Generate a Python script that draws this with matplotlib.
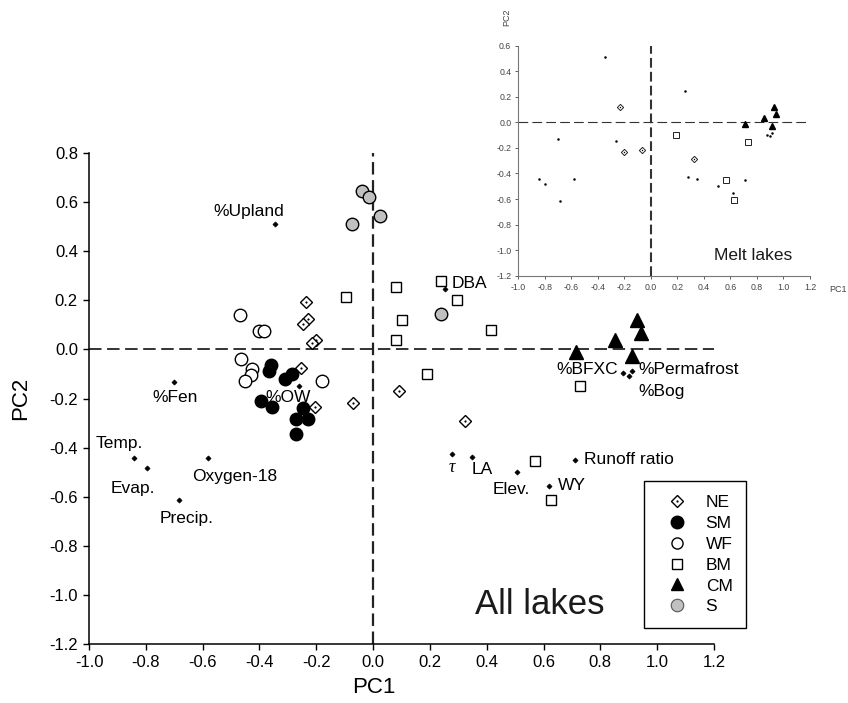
import matplotlib
matplotlib.use("Agg")
import matplotlib.pyplot as plt
from matplotlib.lines import Line2D
from matplotlib.legend_handler import HandlerTuple

plt.rcParams['font.family'] = ['Liberation Sans', 'DejaVu Sans']
plt.rcParams['lines.scale_dashes'] = False

# ---------------- data: lake scores (All lakes) ----------------
ne_pc1 = [-0.235, -0.23, -0.245, -0.20, -0.215, -0.255, -0.205, -0.07, 0.09, 0.325]
ne_pc2 = [0.195, 0.125, 0.105, 0.04, 0.025, -0.075, -0.235, -0.22, -0.17, -0.29]

sm_pc1 = [-0.36, -0.365, -0.31, -0.285, -0.395, -0.355, -0.245, -0.27, -0.23, -0.27]
sm_pc2 = [-0.065, -0.09, -0.12, -0.10, -0.21, -0.235, -0.24, -0.285, -0.285, -0.345]

wf_pc1 = [-0.47, -0.40, -0.385, -0.465, -0.425, -0.43, -0.45, -0.18]
wf_pc2 = [0.14, 0.075, 0.075, -0.04, -0.08, -0.105, -0.13, -0.13]

bm_pc1 = [-0.095, 0.08, 0.24, 0.295, 0.10, 0.415, 0.08, 0.19, 0.73, 0.57, 0.625]
bm_pc2 = [0.215, 0.255, 0.28, 0.20, 0.12, 0.08, 0.04, -0.10, -0.15, -0.455, -0.615]

cm_pc1 = [0.93, 0.944, 0.851, 0.713, 0.91]
cm_pc2 = [0.12, 0.066, 0.037, -0.012, -0.026]

s_pc1 = [-0.04, -0.015, 0.025, -0.074, 0.24]
s_pc2 = [0.645, 0.62, 0.544, 0.511, 0.146]

# ---------------- data: variable loadings ----------------
var_names = ['%Upland', 'DBA', '%OW', '%Fen', 'Temp.', 'Evap.', 'Oxygen-18',
             'Precip.', 'τ', 'LA', 'Elev.', 'WY', 'Runoff ratio',
             '%BFXC', '%Permafrost', '%Bog']
var_pc1 = [-0.344, 0.254, -0.261, -0.701, -0.843, -0.797, -0.582,
           -0.684, 0.278, 0.348, 0.506, 0.618, 0.709, 0.878, 0.91, 0.90]
var_pc2 = [0.511, 0.247, -0.149, -0.131, -0.441, -0.482, -0.443,
           -0.615, -0.426, -0.44, -0.50, -0.556, -0.449, -0.098, -0.087, -0.107]

# ---------------- data: Melt lakes (inset) ----------------
melt_ne_pc1 = [-0.23, -0.205, -0.07, 0.325]
melt_ne_pc2 = [0.12, -0.232, -0.218, -0.29]
melt_bm_pc1 = [0.19, 0.73, 0.566, 0.624]
melt_bm_pc2 = [-0.10, -0.15, -0.454, -0.61]
melt_cm_pc1 = [0.93, 0.944, 0.851, 0.713, 0.91]
melt_cm_pc2 = [0.12, 0.066, 0.037, -0.012, -0.026]

legend_labels = ['NE', 'SM', 'WF', 'BM', 'CM', 'S']
ticks_x = [-1.0, -0.8, -0.6, -0.4, -0.2, 0.0, 0.2, 0.4, 0.6, 0.8, 1.0, 1.2]
ticks_y = [-1.2, -1.0, -0.8, -0.6, -0.4, -0.2, 0.0, 0.2, 0.4, 0.6, 0.8]

# label offsets in pixels (dx, dy, ha)
label_offsets = {
    '%Upland': (-27, 12, 'center'), 'DBA': (6, 5, 'left'), '%OW': (-11, -12, 'center'),
    '%Fen': (1, -16, 'center'), 'Temp.': (-14, 14, 'center'), 'Evap.': (-14, -21, 'center'),
    'Oxygen-18': (27, -18, 'center'), 'Precip.': (8, -18, 'center'), 'τ': (0, -14, 'center'),
    'LA': (10, -12, 'center'), 'Elev.': (-6, -17, 'center'), 'WY': (9, 0, 'left'),
    'Runoff ratio': (9, 0, 'left'), '%BFXC': (-5, 4, 'right'),
    '%Permafrost': (7, 1, 'left'), '%Bog': (10, -16, 'left'),
}

fig = plt.figure(figsize=(8.48, 7.03), dpi=100)

# ================= main axes =================
ax = fig.add_axes([89/848, 1-644/703, 625/848, 491/703])
ax.set_xlim(-1.0, 1.2)
ax.set_ylim(-1.2, 0.8)
for s in ['top', 'right']:
    ax.spines[s].set_visible(False)
for s in ['left', 'bottom']:
    ax.spines[s].set_linewidth(1.1)
ax.set_xticks(ticks_x)
ax.set_yticks(ticks_y)
ax.set_xticklabels([f'{t:.1f}' for t in ticks_x])
ax.set_yticklabels([f'{t:.1f}' for t in ticks_y])
ax.tick_params(direction='out', length=4, width=1, labelsize=12, pad=4)

ax.axhline(0, color='#333333', lw=1.4, dashes=(9, 4), zorder=1)
ax.axvline(0, color='#222222', lw=1.6, dashes=(9, 4), zorder=1)

kw = dict(linestyle='none', zorder=3)
ax.plot(ne_pc1, ne_pc2, marker='D', ms=6.5, mfc='white', mec='black', mew=1, **kw)
ax.plot(ne_pc1, ne_pc2, marker='o', ms=1.6, mfc='black', mec='black', mew=0, linestyle='none', zorder=4)
ax.plot(sm_pc1, sm_pc2, marker='o', ms=9, mfc='black', mec='black', mew=1, **kw)
ax.plot(wf_pc1, wf_pc2, marker='o', ms=9, mfc='white', mec='black', mew=1, **kw)
ax.plot(bm_pc1, bm_pc2, marker='s', ms=7.5, mfc='white', mec='black', mew=1, **kw)
ax.plot(cm_pc1, cm_pc2, marker='^', ms=9.8, mfc='black', mec='black', mew=1, **kw)
ax.plot(s_pc1, s_pc2, marker='o', ms=9, mfc='#c0c0c0', mec='black', mew=1, **kw)

ax.plot(var_pc1, var_pc2, marker='D', ms=2.6, mfc='black', mec='black', mew=0.5,
        linestyle='none', zorder=5)
for name, x, y in zip(var_names, var_pc1, var_pc2):
    dx, dy, ha = label_offsets[name]
    if name == 'τ':
        ax.annotate(name, (x, y), xytext=(dx, dy), textcoords='offset pixels',
                    ha=ha, va='center', fontsize=13, family=['Liberation Serif', 'DejaVu Serif'],
                    style='italic', zorder=6)
    else:
        ax.annotate(name, (x, y), xytext=(dx, dy), textcoords='offset pixels',
                    ha=ha, va='center', fontsize=12.5, zorder=6)

ax.text(0.618, 0.081, 'All lakes', transform=ax.transAxes, fontsize=25,
        ha='left', va='center', color='#1a1a1a')

ax.set_xlabel('PC1', fontsize=16)
ax.set_ylabel('PC2', fontsize=16)
ax.xaxis.set_label_coords(0.456, -0.068)
ax.yaxis.set_label_coords(-0.092, 0.501)

ne_handle = (Line2D([], [], linestyle='none', marker='D', ms=6, mfc='white', mec='black', mew=1),
             Line2D([], [], linestyle='none', marker='o', ms=1.6, mfc='black', mew=0))
handles = [
    ne_handle,
    Line2D([], [], linestyle='none', marker='o', ms=9, mfc='black', mec='black'),
    Line2D([], [], linestyle='none', marker='o', ms=8, mfc='white', mec='black', mew=1),
    Line2D([], [], linestyle='none', marker='s', ms=7, mfc='white', mec='black', mew=1),
    Line2D([], [], linestyle='none', marker='^', ms=9, mfc='black', mec='black'),
    Line2D([], [], linestyle='none', marker='o', ms=9, mfc='#c0c0c0', mec='#555555', mew=0.8),
]
leg = ax.legend(handles, legend_labels, loc='upper left', bbox_to_anchor=(0.888, 0.332),
                borderaxespad=0, fontsize=12.5, frameon=True, fancybox=False,
                edgecolor='black', framealpha=1, borderpad=0.8, labelspacing=0.33,
                handlelength=2.2, handletextpad=0.55,
                handler_map={tuple: HandlerTuple(ndivide=1)})
leg.get_frame().set_linewidth(1.0)

# ================= inset axes =================
ia = fig.add_axes([518.3/848, 1-275.7/703, 291.7/848, 230/703])
ia.set_xlim(-1.0, 1.2)
ia.set_ylim(-1.2, 0.6)
for s in ['top', 'right']:
    ia.spines[s].set_visible(False)
for s in ['left', 'bottom']:
    ia.spines[s].set_linewidth(0.8)
    ia.spines[s].set_color('#777777')
ia.set_xticks(ticks_x)
ia.set_yticks([t for t in ticks_y if t <= 0.6])
ia.set_xticklabels([f'{t:.1f}' for t in ticks_x])
ia.set_yticklabels([f'{t:.1f}' for t in ticks_y if t <= 0.6])
ia.tick_params(direction='out', length=2, width=0.6, labelsize=6.3, pad=3,
               colors='#444444')
ia.axhline(0, color='#333333', lw=0.8, dashes=(7, 3), zorder=1)
ia.axvline(0, color='#333333', lw=1.5, dashes=(7, 3), zorder=1)

ia.plot(melt_ne_pc1, melt_ne_pc2, linestyle='none', marker='D', ms=3.2, mfc='white',
        mec='#222222', mew=0.7, zorder=3)
ia.plot(melt_ne_pc1, melt_ne_pc2, linestyle='none', marker='o', ms=1.0, mfc='black',
        mew=0, zorder=4)
ia.plot(melt_bm_pc1, melt_bm_pc2, linestyle='none', marker='s', ms=4, mfc='white',
        mec='#222222', mew=0.7, zorder=3)
ia.plot(melt_cm_pc1, melt_cm_pc2, linestyle='none', marker='^', ms=5, mfc='black',
        mec='black', zorder=3)
ia.plot(var_pc1, var_pc2, linestyle='none', marker='o', ms=1.8, mfc='black', mew=0, zorder=4)
ia.text(0.67, 0.09, 'Melt lakes', transform=ia.transAxes, fontsize=12.5, ha='left',
        va='center', color='#1a1a1a')
fig.text(507/848, 1-17/703, 'PC2', rotation=90, fontsize=6.5, ha='center', va='center',
         color='#444444')
fig.text(838/848, 1-289/703, 'PC1', fontsize=6.5, ha='center', va='center', color='#444444')

fig.savefig('out.png', dpi=100)
